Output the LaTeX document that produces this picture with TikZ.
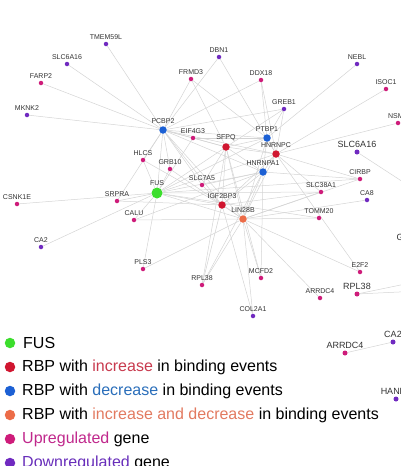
\documentclass[tikz,border=0pt]{standalone}
\usepackage{fontspec}
\setmainfont{Liberation Sans}
\usetikzlibrary{shapes,positioning,backgrounds}
\definecolor{fusgreen}{RGB}{60,222,45}
\definecolor{rbpred}{RGB}{208,22,48}
\definecolor{rbpblue}{RGB}{28,96,212}
\definecolor{rbporange}{RGB}{236,108,72}
\definecolor{upgene}{RGB}{206,28,122}
\definecolor{downgene}{RGB}{112,42,192}
\definecolor{linkgray}{RGB}{212,212,212}
\definecolor{txtinc}{RGB}{200,58,78}
\definecolor{txtdec}{RGB}{42,110,186}
\definecolor{txtboth}{RGB}{226,122,96}
\definecolor{txtup}{RGB}{192,40,140}
\definecolor{txtdown}{RGB}{104,46,186}

\begin{document}
\begin{tikzpicture}[x=1pt, y=-1pt,
  lbl/.style={font=\fontsize{7}{8}\selectfont, text=black!80, inner sep=0.5pt},
  biglbl/.style={font=\fontsize{9}{10}\selectfont, text=black!80, inner sep=0.5pt},
  gene/.style={circle, inner sep=0pt, minimum size=4.5pt},
  up/.style={gene, fill=upgene},
  down/.style={gene, fill=downgene},
  hub/.style={circle, inner sep=0pt, minimum size=7.5pt},
  link/.style={draw=linkgray, line width=0.5pt},
  legdot/.style={circle, inner sep=0pt, minimum size=10.5pt},
  legtxt/.style={anchor=west, inner sep=0pt, font=\fontsize{16}{19}\selectfont},
  label distance=1.5pt]
\useasboundingbox (0,0) rectangle (401,466);
\clip (0,0) rectangle (401,466);

\node[hub, fill=rbpblue, label={[lbl]above:PCBP2}] (pcbp2) at (163,130) {};
\node[hub, fill=rbpred, label={[lbl]above:SFPQ}] (sfpq) at (226,147) {};
\node[hub, fill=rbpblue, label={[lbl]above:PTBP1}] (ptbp1) at (267,138) {};
\node[hub, fill=rbpred, label={[lbl]above:HNRNPC}] (hnrnpc) at (276,154) {};
\node[hub, fill=rbpblue, label={[lbl]above:HNRNPA1}] (hnrnpa1) at (263,172) {};
\node[hub, fill=rbpred, label={[lbl]above:IGF2BP3}] (igf2bp3) at (222,205) {};
\node[hub, fill=rbporange, label={[lbl]above:LIN28B}] (lin28b) at (243,219) {};
\node[hub, fill=fusgreen, minimum size=11pt, label={[lbl]above:FUS}] (fus) at (157,193) {};

\foreach \n/\x/\y/\t in {farp2/41/83/FARP2, frmd3/191/79/FRMD3, ddx18/261/80/DDX18,
  isoc1/386/89/ISOC1, nsmf/398/123/NSMF, eif4g3/193/138/EIF4G3, hlcs/143/160/HLCS,
  grb10/170/169/GRB10, slc7a5/202/185/SLC7A5, srpra/117/201/SRPRA, csnk1e/17/204/CSNK1E,
  calu/134/220/CALU, cirbp/360/179/CIRBP, slc38a1/321/192/SLC38A1, tomm20/319/218/TOMM20,
  pls3/143/269/PLS3, rpl38/202/285/RPL38, mcfd2/261/278/MCFD2, e2f2/360/272/E2F2,
  arrdc4/320/298/ARRDC4}
  \node[up, label={[lbl]above:\t}] (\n) at (\x,\y) {};
\foreach \n/\x/\y/\t in {tmem59l/106/44/TMEM59L, slc6a16/67/64/SLC6A16, mknk2/27/115/MKNK2,
  dbn1/219/57/DBN1, nebl/357/64/NEBL, greb1/284/109/GREB1, ca8/367/200/CA8,
  ca2/41/247/CA2, col2a1/253/316/COL2A1}
  \node[down, label={[lbl]above:\t}] (\n) at (\x,\y) {};

\node[down, minimum size=5pt, label={[biglbl]above:SLC6A16}] (slc6a16b) at (357,152) {};
\node[up, minimum size=5pt, label={[biglbl]above:RPL38}] (rpl38b) at (357,294) {};
\node[up, minimum size=5pt, label={[biglbl]above:ARRDC4}] (arrdc4b) at (345,353) {};
\node[down, minimum size=5pt, label={[biglbl]above:CA2}] (ca2b) at (393,342) {};
\node[down, minimum size=5pt, label={[biglbl]above:HAND2}] (hand2) at (396,399) {};
\node[biglbl, anchor=west] (gcut) at (396,237) {G};
\coordinate (offa) at (420,193);
\coordinate (offb) at (420,281);
\coordinate (offc) at (420,291);

\begin{scope}[on background layer]
\foreach \a/\b in {pcbp2/tmem59l, pcbp2/slc6a16, pcbp2/farp2, pcbp2/mknk2, pcbp2/frmd3,
  pcbp2/dbn1, pcbp2/ddx18, pcbp2/greb1, pcbp2/eif4g3, pcbp2/hlcs, pcbp2/grb10, pcbp2/fus,
  pcbp2/slc7a5, pcbp2/sfpq, pcbp2/ptbp1, pcbp2/hnrnpc, pcbp2/hnrnpa1, pcbp2/igf2bp3,
  pcbp2/lin28b, pcbp2/srpra,
  fus/srpra, fus/csnk1e, fus/calu, fus/ca2, fus/pls3, fus/hlcs, fus/grb10, fus/eif4g3,
  fus/sfpq, fus/ptbp1, fus/hnrnpc, fus/hnrnpa1, fus/igf2bp3, fus/lin28b, fus/slc38a1,
  fus/tomm20, fus/cirbp,
  sfpq/eif4g3, sfpq/frmd3, sfpq/ptbp1, sfpq/hnrnpc, sfpq/hnrnpa1, sfpq/igf2bp3,
  sfpq/lin28b, sfpq/slc7a5, sfpq/greb1, sfpq/rpl38, sfpq/mcfd2,
  ptbp1/ddx18, ptbp1/greb1, ptbp1/nebl, ptbp1/hnrnpc, ptbp1/hnrnpa1, ptbp1/lin28b,
  ptbp1/frmd3, ptbp1/eif4g3,
  hnrnpc/ddx18, hnrnpc/greb1, hnrnpc/isoc1, hnrnpc/nsmf, hnrnpc/dbn1, hnrnpc/cirbp,
  hnrnpc/slc38a1, hnrnpc/hnrnpa1, hnrnpc/lin28b, hnrnpc/igf2bp3, hnrnpc/e2f2,
  hnrnpa1/cirbp, hnrnpa1/lin28b, hnrnpa1/igf2bp3, hnrnpa1/slc7a5, hnrnpa1/rpl38,
  hnrnpa1/mcfd2, hnrnpa1/calu,
  igf2bp3/lin28b, igf2bp3/slc7a5, igf2bp3/slc38a1, igf2bp3/rpl38, igf2bp3/col2a1,
  igf2bp3/srpra, igf2bp3/hlcs,
  lin28b/calu, lin28b/pls3, lin28b/rpl38, lin28b/mcfd2, lin28b/col2a1, lin28b/arrdc4,
  lin28b/e2f2, lin28b/tomm20, lin28b/slc38a1, lin28b/ca8, lin28b/grb10, lin28b/cirbp,
  slc6a16b/offa, rpl38b/offb, rpl38b/offc, arrdc4b/ca2b}
  \draw[link] (\a) -- (\b);
\end{scope}

\node[legdot, fill=fusgreen] (kfus) at (10,343) {};
\node[legdot, fill=rbpred] (kinc) at (10,367) {};
\node[legdot, fill=rbpblue] (kdec) at (10,391) {};
\node[legdot, fill=rbporange] (kboth) at (10,415) {};
\node[legdot, fill=upgene] (kup) at (10,439) {};
\node[legdot, fill=downgene] (kdown) at (10,463) {};
\node[legtxt] (tfus) at (23,343) {FUS};
\node[legtxt] (tinc) at (22,367) {RBP with \textcolor{txtinc}{increase} in binding events};
\node[legtxt] (tdec) at (22,391) {RBP with \textcolor{txtdec}{decrease} in binding events};
\node[legtxt] (tboth) at (22,415) {RBP with \textcolor{txtboth}{increase and decrease} in binding events};
\node[legtxt] (tup) at (22,439) {\textcolor{txtup}{Upregulated} gene};
\node[legtxt] (tdown) at (22,463) {\textcolor{txtdown}{Downregulated} gene};
\end{tikzpicture}
\end{document}
